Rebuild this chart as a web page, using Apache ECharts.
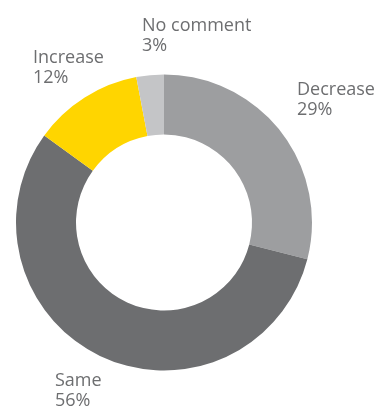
<!DOCTYPE html>
<html>
<head>
<meta charset="utf-8">
<script src="https://cdn.jsdelivr.net/npm/echarts@6/dist/echarts.min.js"></script>
<style>
  html, body { margin: 0; padding: 0; background: #fff; }
  #chart { width: 379px; height: 409px; }
</style>
</head>
<body>
<div id="chart"></div>
<script>
// Survey response shares, clockwise from 12 o'clock
const categories = ['Decrease', 'Same', 'Increase', 'No comment'];
const shares = [29, 56, 12, 3];
const sliceColors = ['#9d9ea0', '#6d6e70', '#ffd500', '#c4c5c7'];
// Where each slice's caption sits (left / top of the text block)
const captionSpots = [[297, 80], [55, 371], [33, 48], [142, 16]];

const chart = echarts.init(document.getElementById('chart'), null, { renderer: 'canvas' });

chart.setOption({
  animation: false,
  series: [{
    type: 'pie',
    center: [164, 222.5],
    radius: [88, 148],
    startAngle: 90,
    clockwise: true,
    silent: true,
    avoidLabelOverlap: false,
    itemStyle: { borderWidth: 0 },
    label: {
      show: true,
      position: 'outside',
      formatter: p => p.name + '\n' + p.value + '%',
      fontFamily: 'Open Sans',
      fontSize: 18,
      lineHeight: 20,
      color: '#6d6e70',
      align: 'left',
      overflow: 'none',
      width: 200
    },
    labelLine: { show: false },
    labelLayout: p => ({
      x: captionSpots[p.dataIndex][0],
      y: captionSpots[p.dataIndex][1],
      align: 'left',
      verticalAlign: 'top'
    }),
    data: categories.map((name, i) => ({
      name,
      value: shares[i],
      itemStyle: { color: sliceColors[i] }
    }))
  }]
});
</script>
</body>
</html>
